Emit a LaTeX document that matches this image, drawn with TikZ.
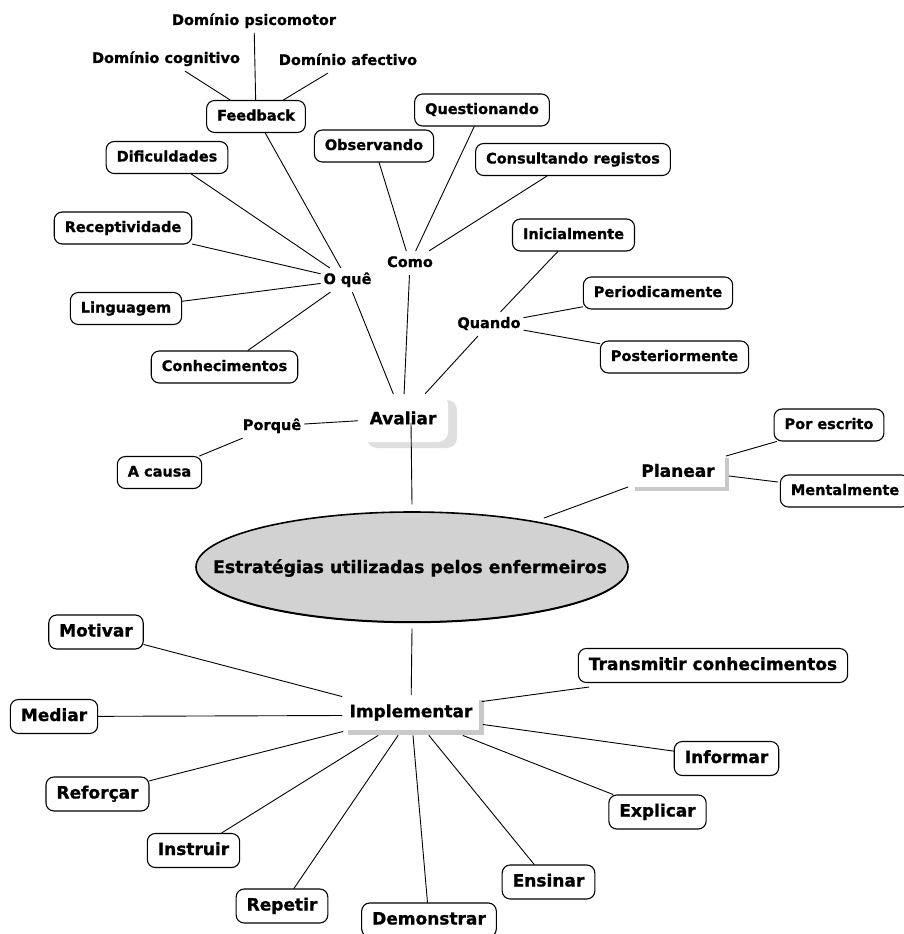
\documentclass[tikz,border=0pt]{standalone}
\usepackage{fontspec}
\setmainfont{DejaVu Sans}[BoldFeatures={FakeBold=1}]
\usetikzlibrary{shapes.geometric,shadows,calc}

\tikzset{
  smallfont/.style={font=\bfseries\fontsize{14.5pt}{17pt}\selectfont},
  bigfont/.style={font=\bfseries\fontsize{17pt}{20pt}\selectfont},
  box/.style={draw, line width=1.1pt, rounded corners=8pt, fill=white,
    inner xsep=10.5pt, inner ysep=0pt, text height=11pt, text depth=3pt,
    minimum height=32pt, smallfont},
  bigbox/.style={box, bigfont, text height=12.5pt, text depth=3.5pt, minimum height=34pt},
  hub/.style={smallfont, inner xsep=3pt, inner ysep=5pt, text height=11pt, text depth=3pt},
  link/.style={line width=0.9pt, line cap=round},
  flatshadow/.style={general shadow={fill=gray!42, shadow xshift=#1, shadow yshift=-#1}},
}

\begin{document}
\begin{tikzpicture}[x=1pt, y=-1pt]
\useasboundingbox (0,0) rectangle (903,934);

% ---- central topic: ellipse, then its caption on top ----
\node[ellipse, draw, line width=1.6pt, fill=gray!35, minimum width=432pt, minimum height=110pt,
      inner sep=0pt, general shadow={fill=black, shadow yshift=-1.2pt}]
  (ell) at (412,567) {};
\node[font=\bfseries\fontsize{17.3pt}{20pt}\selectfont, inner sep=0pt] (elltext) at (410,568)
  {Estratégias utilizadas pelos enfermeiros};

% ---- main branches ----
\node[fill=white, rounded corners=10pt, minimum width=90pt, minimum height=48pt, inner sep=0pt, bigfont,
      general shadow={fill=gray!25, shadow xshift=9pt, shadow yshift=-6pt}]
  (av) at (403,418) {Avaliar};
\node[fill=white, minimum width=94pt, minimum height=33pt, inner sep=0pt, bigfont, flatshadow=4pt]
  (pl) at (678,470.5) {Planear};
\node[fill=white, minimum width=136pt, minimum height=35pt, inner sep=0pt, bigfont, flatshadow=5pt]
  (impl) at (411,712.5) {Implementar};

% ---- Avaliar: sub-questions ----
\node[hub] (oque) at (347.5,280) {O quê};
\node[hub] (como) at (410,263) {Como};
\node[hub] (quando) at (489,324) {Quando};
\node[hub] (porq) at (272,426) {Porquê};

% O quê
\node[box] (fb)  at (256,116.5) {Feedback};
\node[hub] (dcog) at (166,59) {Domínio cognitivo};
\node[hub] (dpsi) at (254,21) {Domínio psicomotor};
\node[hub] (dafe) at (348,61) {Domínio afectivo};
\node[box] (dif) at (167,157.5) {Dificuldades};
\node[box] (rec) at (123,228) {Receptividade};
\node[box] (lin) at (126,308.5) {Linguagem};
\node[box] (con) at (224.5,367) {Conhecimentos};

% Como
\node[box] (obs)  at (374,146) {Observando};
\node[box] (que)  at (482,110) {Questionando};
\node[box] (cons) at (573,159.5) {Consultando registos};

% Quando
\node[box] (ini) at (573.5,235) {Inicialmente};
\node[box] (per) at (658,293) {Periodicamente};
\node[box] (pos) at (674.5,357) {Posteriormente};

% Porquê
\node[box] (acausa) at (159.5,472.5) {A causa};

% ---- Planear ----
\node[box] (pe)  at (829,425) {Por escrito};
\node[box] (men) at (845,491) {Mentalmente};

% ---- Implementar ----
\node[bigbox] (mot) at (96,632) {Motivar};
\node[bigbox] (med) at (54,716.5) {Mediar};
\node[bigbox] (ref) at (97.5,794) {Reforçar};
\node[bigbox] (ins) at (193.5,850.5) {Instruir};
\node[bigbox] (rep) at (282,906) {Repetir};
\node[bigbox] (dem) at (429,920) {Demonstrar};
\node[bigbox] (ens) at (548.5,882) {Ensinar};
\node[bigbox] (exp) at (657.5,812) {Explicar};
\node[bigbox] (inf) at (726.5,758.5) {Informar};
\node[bigbox] (tra) at (713,665.5) {Transmitir conhecimentos};

% ---- connectors ----
\draw[link] (dcog) -- (fb);
\draw[link] (dpsi) -- (fb);
\draw[link] (dafe) -- (fb);
\draw[link] (fb) -- (oque);
\draw[link] (dif) -- (oque);
\draw[link] (rec) -- (oque);
\draw[link] (lin) -- (oque);
\draw[link] (con) -- (oque);
\draw[link] (oque) -- (av);

\draw[link] (obs) -- (como);
\draw[link] (que) -- (como);
\draw[link] (cons) -- (como);
\draw[link] (como) -- (av);

\draw[link] (ini) -- (quando);
\draw[link] (per) -- (quando);
\draw[link] (pos) -- (quando);
\draw[link] (quando) -- (av);

\draw[link] (av) -- (porq);
\draw[link] (porq) -- (acausa);

\draw[link] ([shift={(8,5)}]av.center) -- ([yshift=7pt]ell.north);
\draw[link] ([yshift=-6pt]ell.south) -- (impl);

\draw[link] ([shift={(-50,16.5)}]pl.center) -- ([shift={(132,-49)}]ell.center);
\draw[link] ([shift={(48,-14.5)}]pl.center) -- ([xshift=3pt]pe.south west);
\draw[link] ([shift={(51,5.5)}]pl.center) -- ([shift={(-2,-9)}]men.west);

\draw[link] (mot) -- ([shift={(-69,-16)}]impl.center);
\draw[link] (med) -- ([shift={(-69,3)}]impl.center);
\draw[link] (ref) -- ([shift={(-68,19)}]impl.center);
\draw[link] (ins) -- ([shift={(-33,23)}]impl.center);
\draw[link] (rep) -- ([shift={(-13,23)}]impl.center);
\draw[link] (dem) -- ([shift={(2,23)}]impl.center);
\draw[link] (ens) -- ([shift={(18,23)}]impl.center);
\draw[link] (exp) -- ([shift={(52,23)}]impl.center);
\draw[link] (inf) -- ([shift={(72,12)}]impl.center);
\draw[link] ([shift={(11,4)}]tra.south west) -- ([shift={(71,-11)}]impl.center);
\end{tikzpicture}
\end{document}
